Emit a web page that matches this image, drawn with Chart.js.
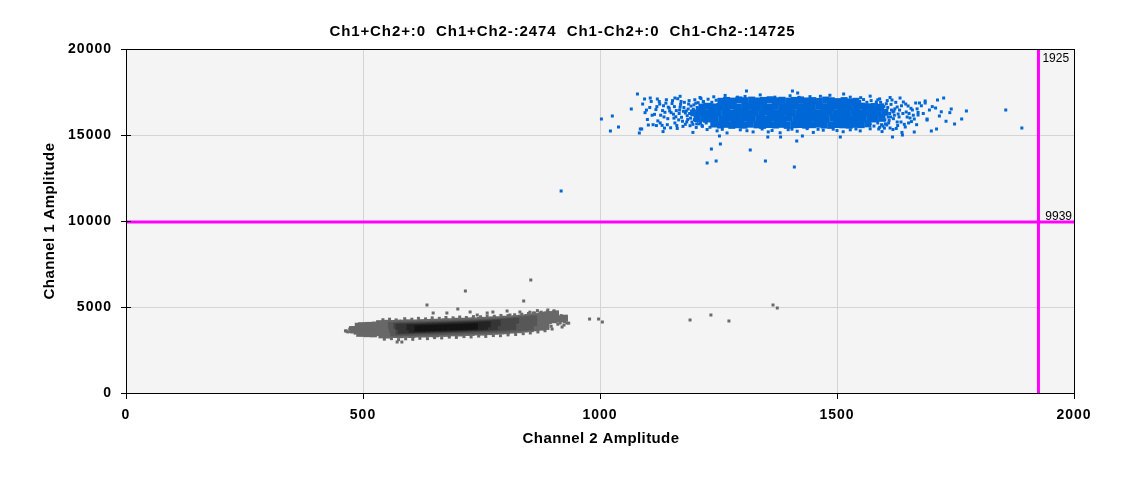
<!DOCTYPE html>
<html><head><meta charset="utf-8">
<script src="https://cdn.jsdelivr.net/npm/chart.js@4"></script>
<style>html,body{margin:0;padding:0;background:#fff;}canvas{display:block;}</style>
</head><body>
<canvas id="c" width="1125" height="478"></canvas>
<script>
const quadrantNames = ['Ch1+Ch2+', 'Ch1+Ch2-', 'Ch1-Ch2+', 'Ch1-Ch2-'];
const quadrantCounts = [0, 2474, 0, 14725];
const xTicks = [0, 500, 1000, 1500, 2000];
const yTicks = [0, 5000, 10000, 15000, 20000];
const thresholdX = 1925;
const thresholdY = 9939;
const xTitle = 'Channel 2 Amplitude';
const yTitle = 'Channel 1 Amplitude';

// Ch1+Ch2- cluster (blue), dense core rows
const blueCoreRowA = [[1255,16960],[1267,17010],[1281,16970],[1293,17040],[1306,16990],[1320,17030],[1332,16980],[1345,17010],[1359,17050],[1371,16990],[1384,17020],[1398,16970],[1410,17010],[1423,17040],[1437,16980],[1449,17000],[1462,16950],[1476,17030],[1488,16990],[1501,16940],[1515,17000],[1527,16920],[1540,16960]];
const blueCoreRowB = [[1215,16620],[1229,16670],[1241,16630],[1253,16660],[1267,16650],[1279,16680],[1292,16620],[1306,16650],[1318,16670],[1331,16640],[1345,16660],[1357,16630],[1370,16680],[1384,16650],[1396,16640],[1409,16670],[1423,16650],[1435,16620],[1448,16660],[1462,16680],[1474,16640],[1487,16650],[1501,16670],[1513,16630],[1526,16660],[1540,16650],[1552,16680],[1565,16640],[1579,16660],[1592,16610]];
const blueCoreRowC = [[1198,16290],[1210,16320],[1224,16280],[1236,16310],[1249,16300],[1263,16330],[1275,16270],[1288,16300],[1302,16320],[1314,16290],[1327,16310],[1341,16280],[1353,16330],[1366,16300],[1380,16290],[1392,16320],[1405,16300],[1419,16270],[1431,16310],[1444,16330],[1458,16290],[1470,16300],[1483,16320],[1497,16280],[1509,16310],[1522,16300],[1536,16330],[1548,16290],[1561,16310],[1575,16280],[1587,16300],[1601,16320]];
const blueCoreRowD = [[1205,15960],[1219,15970],[1231,15930],[1243,15960],[1257,15950],[1269,15980],[1282,15920],[1296,15950],[1308,15970],[1321,15940],[1335,15960],[1347,15930],[1360,15980],[1374,15950],[1386,15940],[1399,15970],[1413,15950],[1425,15920],[1438,15960],[1452,15980],[1464,15940],[1477,15950],[1491,15970],[1503,15930],[1516,15960],[1530,15950],[1542,15980],[1555,15940],[1569,15960],[1581,15930],[1595,15970]];
const blueCoreRowE = [[1240,15640],[1254,15580],[1266,15620],[1278,15560],[1292,15600],[1304,15570],[1317,15630],[1331,15590],[1343,15560],[1356,15610],[1370,15580],[1382,15620],[1395,15560],[1409,15600],[1421,15610],[1434,15570],[1448,15600],[1460,15630],[1473,15580],[1487,15560],[1499,15610],[1512,15590],[1526,15570],[1538,15620],[1551,15600],[1565,15650]];
// blue scattered points
const blueLeft = [[1118,16480],[1122,15820],[1125,16950],[1128,16150],[1131,15560],[1134,16700],[1137,16320],[1140,17050],[1143,15950],[1146,16560],[1149,15420],[1152,16830],[1155,16210],[1158,15700],[1161,16420],[1164,17110],[1166,15880],[1169,16620],[1172,16030],[1175,15500],[1178,16900],[1180,16280],[1183,15760],[1186,16510],[1188,17000],[1191,15980],[1193,16360],[1196,15620],[1198,16750],[1201,16100],[1203,15440],[1205,16600],[1207,16880],[1209,15850],[1211,16250],[1213,17120],[1215,15560],[1217,16450],[1219,15990],[1221,16780],[1184,16120],[1192,16680],[1199,15900],[1206,16380],[1212,15700],[1218,16920],[1160,16060],[1170,16780],[1176,16380],[1150,16300],[1144,16620],[1132,16420],[1200,17050],[1190,15540],[1210,16520],[1195,16220],[1180,15620],[1168,16450],[1156,15980],[1214,16150],[1090,16800],[1095,16300],[1100,15900],[1105,16600],[1110,16150],[1112,15600],[1098,16450],[1108,16950],[1115,16200],[1120,16650],[1127,15700],[1135,16050],[1139,16850],[1142,15600],[1147,16400],[1153,17000],[1157,16650],[1162,15550],[1167,16250],[1171,16950],[1174,15800],[1177,16600],[1182,16400],[1185,15900],[1187,16800],[1189,16250],[1194,15750],[1197,16500],[1202,16850],[1204,15650],[1208,16150],[1216,16650],[1220,15800],[1222,16350],[1119,15550],[1126,16800],[1136,15400],[1158,17150]];
const blueEdges = [[1085,15350],[1133,15200],[1163,15380],[1196,15150],[1226,15320],[1247,15240],[1268,15120],[1296,15300],[1323,15180],[1342,15350],[1363,15260],[1380,15130],[1397,15310],[1416,15220],[1437,15370],[1450,15150],[1471,15280],[1492,15340],[1513,15190],[1528,15300],[1549,15240],[1570,15360],[1595,15200],[1618,15320],[1637,15150],[1258,15330],[1310,15250],[1355,15180],[1405,15340],[1460,15330],[1500,15260],[1540,15350],[1106,17150],[1169,17250],[1211,17180],[1264,17300],[1306,17240],[1338,17330],[1369,17200],[1401,17280],[1443,17230],[1485,17310],[1528,17200],[1570,17260],[1612,17180],[1240,17220],[1290,17200],[1420,17190],[1465,17250],[1550,17170],[1218,16950],[1228,17080],[1236,16900],[1245,17020],[1548,16950],[1556,17060],[1563,16900],[1572,17000],[1583,16920],[1590,17100],[1208,15650],[1216,15500],[1224,15700],[1232,15450],[1570,15650],[1578,15520],[1586,15700],[1594,15600]];
const blueRight = [[1592,16900],[1595,16120],[1597,15520],[1599,16660],[1601,15880],[1603,16400],[1606,17000],[1609,15700],[1611,16250],[1614,16780],[1619,15950],[1622,16520],[1625,15380],[1631,16050],[1636,16700],[1642,15620],[1652,16250],[1657,15780],[1598,16280],[1602,15650],[1590,15450],[1593,16540],[1604,16820],[1613,16050],[1620,16380],[1586,17050],[1588,15350],[1650,16687],[1659,16454],[1646,16337],[1648,16047],[1633,17151],[1640,16919],[1644,15465],[1654,15988],[1635,15756],[1627,15756],[1618,16337],[1627,16628],[1612,15407],[1616,17035],[1608,16047],[1605,15581],[1629,16221],[1674,16861],[1666,16861],[1671,16163],[1663,15930],[1663,15175],[1671,16310],[1669,16520],[1690,15930],[1690,15870],[1686,16977],[1686,16860],[1695,16454],[1725,17151],[1712,17035],[1716,16105],[1710,15349],[1699,15233],[1708,16570],[1741,16512],[1748,15640],[1738,16300],[1763,15930],[1773,16396],[1856,16454],[1890,15407],[1638,15000],[1617,14884],[1596,16750],[1600,15400],[1607,16600],[1610,15850],[1615,16450],[1621,16150],[1624,16900],[1628,15550],[1632,16450],[1639,16250],[1645,16800],[1651,15700],[1656,16550],[1661,16150],[1668,15600],[1678,16700],[1682,16250],[1701,16650],[1720,16350],[1730,15800]];
const blueOutliers = [[918,11744],[1003,15930],[1026,16105],[1022,15233],[1039,15465],[1079,17384],[1094,17093],[1121,17093],[1066,16512],[1083,15116],[1088,15349],[1102,15581],[1252,14942],[1254,14477],[1235,14186],[1226,13372],[1245,13488],[1317,14128],[1349,13488],[1410,13140],[1415,14651],[1427,14942],[1507,14884],[1354,14884],[1381,14884],[1309,17558],[1406,17558],[1417,17442],[1514,17384]];

// Ch1-Ch2- cluster (black), graded from sparse rim (L0) to dense centre (L5)
const blackL0Mid = [[478,3690],[491,3670],[503,3700],[516,3680],[528,3715],[541,3695],[553,3720],[566,3710],[578,3735],[591,3725],[603,3750],[616,3745],[628,3770],[641,3765],[653,3790],[666,3790],[678,3815],[691,3815],[703,3840],[716,3840],[728,3865],[741,3865],[753,3890],[766,3900],[778,3925],[791,3935],[803,3965],[816,3980],[828,4020],[841,4040],[853,4080],[866,4110],[878,4160],[891,4210],[903,4260],[915,4310],[925,4350]];
const blackL0Upper = [[535,4030],[548,4050],[560,4040],[573,4060],[585,4060],[598,4080],[610,4070],[623,4090],[635,4100],[648,4110],[660,4110],[673,4140],[685,4140],[698,4170],[710,4170],[723,4190],[735,4190],[748,4220],[760,4220],[773,4250],[785,4260],[798,4290],[810,4300],[823,4330],[835,4360],[848,4390],[860,4420],[873,4470],[885,4510],[897,4560],[906,4600],[490,3880],[505,3900],[520,3890],[497,3910],[512,3930],[526,3950]];
const blackL0Lower = [[540,3380],[553,3370],[565,3400],[578,3390],[590,3410],[603,3400],[615,3430],[628,3430],[640,3450],[653,3440],[665,3470],[678,3470],[690,3500],[703,3490],[715,3520],[728,3520],[740,3550],[753,3540],[765,3570],[778,3590],[790,3610],[803,3620],[815,3660],[828,3680],[840,3720],[853,3740],[865,3790],[878,3830],[886,3870],[500,3500],[515,3490],[528,3510],[493,3470],[508,3450],[522,3440]];
const blackL1 = [[560,3930],[573,3950],[585,3945],[598,3965],[610,3960],[623,3985],[635,3980],[648,4005],[660,4005],[673,4025],[685,4030],[698,4055],[710,4055],[723,4075],[735,4080],[748,4105],[760,4110],[773,4135],[785,4145],[798,4175],[810,4190],[823,4220],[835,4250],[848,4280],[860,4310],[565,3500],[578,3505],[590,3520],[603,3515],[615,3535],[628,3540],[640,3555],[653,3555],[665,3575],[678,3585],[690,3600],[703,3605],[715,3625],[728,3635],[740,3650],[753,3655],[765,3680],[778,3700],[790,3715],[803,3730],[815,3760],[828,3790],[840,3815],[853,3840],[562,3720],[572,3725],[840,4040],[851,4065],[860,4095]];
const blackL2 = [[570,3900],[581,3910],[592,3915],[603,3925],[614,3930],[625,3945],[636,3950],[647,3965],[658,3970],[669,3985],[680,3990],[691,4005],[702,4015],[713,4025],[724,4035],[735,4050],[746,4065],[757,4080],[768,4095],[779,4110],[790,4125],[801,4150],[812,4170],[823,4195],[575,3565],[586,3575],[597,3580],[608,3590],[619,3595],[630,3610],[641,3615],[652,3630],[663,3635],[674,3650],[685,3660],[696,3670],[707,3680],[718,3695],[729,3705],[740,3715],[751,3730],[762,3745],[773,3760],[784,3775],[795,3795],[806,3825],[817,3845]];
const blackL3 = [[575,3850],[586,3860],[597,3870],[608,3880],[619,3885],[630,3895],[641,3905],[652,3920],[663,3930],[674,3940],[685,3950],[696,3960],[707,3975],[718,3985],[729,3995],[740,4010],[751,4025],[762,4040],[773,4055],[784,4075],[580,3625],[591,3635],[602,3640],[613,3650],[624,3660],[635,3670],[646,3680],[657,3695],[668,3705],[679,3715],[690,3725],[701,3735],[712,3745],[723,3755],[734,3770],[745,3785],[756,3800],[767,3815],[778,3830]];
const blackL4 = [[598,3820],[609,3830],[620,3835],[631,3845],[642,3860],[653,3870],[664,3880],[675,3895],[686,3905],[697,3915],[708,3925],[719,3935],[730,3945],[741,3960],[752,3975],[763,3990],[603,3685],[614,3695],[625,3705],[636,3710],[647,3725],[658,3735],[669,3745],[680,3755],[691,3765],[702,3775],[713,3785],[724,3800],[735,3810],[746,3830],[757,3845]];
const blackL5 = [[615,3752],[626,3762],[637,3772],[648,3783],[659,3794],[670,3805],[681,3816],[692,3827],[703,3838],[714,3849],[725,3860],[736,3874]];
const blackEdges = [[463,3610],[468,3550],[472,3720],[476,3650],[479,3800],[483,3480],[486,3590],[490,3850],[493,3520],[497,3760],[500,3440],[504,3880],[508,3500],[512,3830],[515,3420],[519,3890],[523,3470],[527,3930],[530,3400],[535,3950],[465,3605],[476,3547],[542,4260],[556,4290],[570,4250],[588,4320],[603,4290],[617,4340],[632,4310],[646,4370],[661,4340],[675,4390],[690,4370],[704,4420],[718,4390],[733,4440],[748,4430],[762,4470],[777,4460],[791,4510],[806,4500],[820,4550],[835,4580],[849,4620],[862,4650],[876,4700],[889,4740],[903,4780],[868,4790],[884,4660],[852,4700],[897,4600],[910,4650],[918,4500],[648,4651],[677,4651],[726,4709],[741,4535],[762,4651],[774,4709],[804,4767],[810,4535],[831,4709],[859,4651],[874,4651],[890,4826],[905,4360],[916,4070],[930,4070],[920,3837],[838,4070],[545,3130],[560,3160],[575,3100],[590,3150],[605,3120],[620,3180],[636,3160],[651,3220],[666,3200],[682,3250],[697,3230],[713,3280],[728,3260],[744,3310],[759,3290],[775,3340],[790,3330],[806,3380],[822,3400],[838,3450],[853,3490],[869,3550],[884,3620],[899,3720],[882,3950],[888,4100],[893,4400],[897,3880],[902,4180],[906,4480],[911,4000],[915,4250],[920,4420],[925,4150],[929,4300],[934,4060],[924,3950]];
const blackOutliers = [[572,2965],[582,2965],[635,5116],[700,4884],[716,5930],[854,6570],[839,5350],[978,4300],[997,4300],[1005,4128],[1190,4244],[1234,4535],[1272,4186],[1365,5116],[1374,4942]];

const BLUE = '#0067d6';
function pts(a) { return a.map(p => ({x: p[0], y: p[1]})); }
function pointSet(data, color, r, order) {
  return {type: 'scatter', data: pts(data), backgroundColor: color, borderWidth: 0,
    pointStyle: 'rect', pointRadius: r, pointHoverRadius: r, order: order};
}
function lineSet(data) {
  return {type: 'line', data: data, borderColor: '#ff00ff', borderWidth: 3, pointRadius: 0,
    showLine: true, fill: false, clip: 0, order: 0};
}
const xMin = xTicks[0], xMax = xTicks[xTicks.length - 1];
const yMin = yTicks[0], yMax = yTicks[yTicks.length - 1];
const titleText = quadrantNames.map((n, i) => n + ':' + quadrantCounts[i]).join('  ');

const decor = {
  id: 'decor',
  beforeDraw(chart) {
    const {ctx, chartArea: a} = chart;
    ctx.save();
    ctx.fillStyle = '#f4f4f4';
    ctx.fillRect(a.left, a.top, a.right - a.left, a.bottom - a.top);
    ctx.restore();
    ctx.letterSpacing = '1px';
  },
  afterDraw(chart) {
    const {ctx, chartArea: a} = chart;
    const xs = chart.scales.x, ys = chart.scales.y;
    ctx.save();
    ctx.strokeStyle = '#000';
    ctx.lineWidth = 1;
    ctx.strokeRect(a.left + 0.5, a.top + 0.5, a.right - a.left, a.bottom - a.top);
    ctx.beginPath();
    yTicks.slice(1, -1).forEach(v => {
      const p = Math.round(ys.getPixelForValue(v)) + 0.5;
      ctx.moveTo(a.left, p); ctx.lineTo(a.left + 5, p);
    });
    ctx.stroke();
    ctx.fillStyle = '#000';
    ctx.textBaseline = 'alphabetic';
    ctx.textAlign = 'center';
    ctx.letterSpacing = '0.9px';
    ctx.font = 'bold 15px "Liberation Sans"';
    ctx.fillText(titleText, chart.width / 2, 36);
    ctx.letterSpacing = '0.4px';
    ctx.fillText(xTitle, (a.left + a.right) / 2 + 1, 443);
    ctx.save();
    ctx.translate(54, (a.top + a.bottom) / 2);
    ctx.rotate(-Math.PI / 2);
    ctx.fillText(yTitle, 0, 0);
    ctx.restore();
    ctx.letterSpacing = '0px';
    ctx.font = '12px "Liberation Sans"';
    ctx.textAlign = 'left';
    ctx.fillText(String(thresholdX), xs.getPixelForValue(thresholdX) + 4, a.top + 13);
    ctx.textAlign = 'right';
    ctx.fillText(String(thresholdY), a.right - 2, ys.getPixelForValue(thresholdY) - 2);
    ctx.restore();
    ctx.letterSpacing = '0px';
  }
};

const tickFont = {family: 'Liberation Sans', size: 14, weight: 'bold'};
new Chart(document.getElementById('c'), {
  type: 'scatter',
  data: {datasets: [
    lineSet([{x: thresholdX, y: yMin}, {x: thresholdX, y: yMax}]),
    lineSet([{x: xMin, y: thresholdY}, {x: xMax, y: thresholdY}]),
    pointSet(blueCoreRowA.concat(blueCoreRowB, blueCoreRowC, blueCoreRowD, blueCoreRowE), BLUE, 4.95, 10),
    pointSet(blueLeft.concat(blueEdges, blueRight, blueOutliers), BLUE, 2.12, 10),
    pointSet(blackL5, '#141414', 4.24, 14),
    pointSet(blackL4, '#242424', 4.24, 15),
    pointSet(blackL3, '#353535', 4.24, 16),
    pointSet(blackL2, '#464646', 4.24, 17),
    pointSet(blackL1, '#575757', 4.95, 18),
    pointSet(blackL0Mid.concat(blackL0Upper, blackL0Lower), '#686868', 4.95, 19),
    pointSet(blackEdges.concat(blackOutliers), '#6a6a6a', 2.12, 20)
  ]},
  options: {
    responsive: false, animation: false, devicePixelRatio: 1, events: [],
    layout: {padding: {top: 49, right: 51, left: 0, bottom: 0}},
    plugins: {legend: {display: false}, tooltip: {enabled: false}, title: {display: false}},
    scales: {
      x: {
        type: 'linear', min: xMin, max: xMax,
        afterBuildTicks: s => { s.ticks = xTicks.map(v => ({value: v})); },
        afterFit: s => { s.height = 85; },
        grid: {color: '#d4d4d4', tickColor: '#000', tickLength: 6, lineWidth: 1},
        border: {display: false},
        ticks: {font: tickFont, color: '#000', padding: 8, maxRotation: 0, autoSkip: false, callback: v => String(v)}
      },
      y: {
        type: 'linear', min: yMin, max: yMax,
        afterBuildTicks: s => { s.ticks = yTicks.map(v => ({value: v})); },
        afterFit: s => { s.width = 126; },
        grid: {color: '#d4d4d4', tickColor: '#000', tickLength: 5, lineWidth: 1},
        border: {display: false},
        ticks: {font: tickFont, color: '#000', padding: 9, autoSkip: false, callback: v => String(v)}
      }
    }
  },
  plugins: [decor]
});
</script>
</body></html>
